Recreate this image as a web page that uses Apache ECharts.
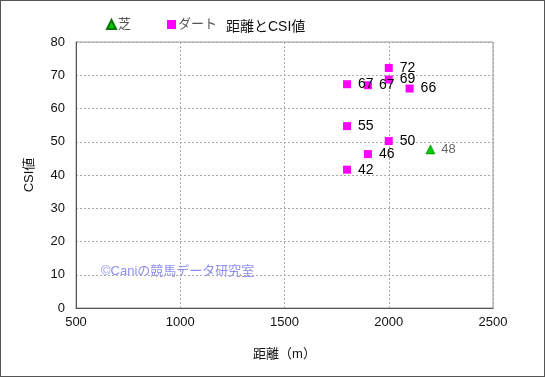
<!DOCTYPE html>
<html>
<head>
<meta charset="utf-8">
<script src="https://cdn.jsdelivr.net/npm/echarts@6/dist/echarts.min.js"></script>
<style>
  html, body { margin: 0; padding: 0; background: #fff; }
  #chart { width: 545px; height: 377px; box-sizing: border-box; border: 1px solid #555; }
</style>
</head>
<body>
<div id="chart"></div>
<script>
  // 芝
  var turfDist = [2200];
  var turfCsi = [47.7];
  // ダート
  var dirtDist = [1800, 1900, 2000, 2000, 2100, 1800, 2000, 1900, 1800];
  var dirtCsi = [67.3, 67.0, 68.7, 72.2, 66.0, 54.7, 50.2, 46.3, 41.6];

  var font = 'Liberation Sans, Arial, Noto Sans CJK JP, sans-serif';

  function pairs(xs, ys) {
    return xs.map(function (x, i) { return [x, ys[i]]; });
  }

  var chart = echarts.init(document.getElementById('chart'));
  chart.setOption({
    animation: false,
    textStyle: { fontFamily: font },
    title: {
      text: '距離とCSI値',
      left: 220,
      top: 14,
      textStyle: { fontSize: 14, fontWeight: 'normal', color: '#111', fontFamily: font }
    },
    legend: {
      left: 100,
      top: 12,
      itemGap: 36,
      itemWidth: 9,
      itemHeight: 9,
      textStyle: { fontSize: 13, color: '#555', padding: [0, 0, 0, -3] },
      data: [{ name: '芝', icon: 'triangle' }, { name: 'ダート', icon: 'rect' }]
    },
    grid: {
      left: 75,
      right: 51,
      top: 41,
      bottom: 68,
      show: true,
      borderColor: '#999',
      borderWidth: 1
    },
    xAxis: {
      type: 'value',
      min: 500,
      max: 2500,
      interval: 500,
      name: '距離（m）',
      nameLocation: 'middle',
      nameGap: 40,
      nameTextStyle: { fontSize: 13, color: '#111' },
      axisLine: { show: true, lineStyle: { color: '#555' } },
      axisTick: { show: false },
      axisLabel: { fontSize: 13, color: '#111', margin: 8, formatter: function (v) { return String(v); } },
      splitLine: { lineStyle: { color: '#aaa', type: [2, 2] } }
    },
    yAxis: {
      type: 'value',
      min: 0,
      max: 80,
      interval: 10,
      name: 'CSI値',
      nameLocation: 'middle',
      nameGap: 40,
      nameRotate: 90,
      nameTextStyle: { fontSize: 13, color: '#111' },
      axisLine: { show: true, lineStyle: { color: '#555' } },
      axisTick: { show: false },
      axisLabel: { fontSize: 13, color: '#111', margin: 11 },
      splitLine: { lineStyle: { color: '#aaa', type: [2, 2] } }
    },
    graphic: [{
      type: 'text',
      left: 100,
      top: 264,
      style: {
        text: '©Caniの競馬データ研究室',
        fontSize: 13,
        fill: '#8f8ff2',
        fontFamily: font
      }
    }],
    series: [
      {
        name: '芝',
        type: 'scatter',
        symbol: 'triangle',
        symbolSize: 9,
        itemStyle: { color: '#00cc00', borderColor: '#007700', borderWidth: 0.6, opacity: 1 },
        label: {
          show: true,
          position: 'right',
          distance: 6,
          fontSize: 13,
          color: '#666',
          formatter: function (p) { return Math.round(p.value[1]); }
        },
        data: pairs(turfDist, turfCsi)
      },
      {
        name: 'ダート',
        type: 'scatter',
        symbol: 'rect',
        symbolSize: 8,
        itemStyle: { color: '#ff00ff', opacity: 1 },
        label: {
          show: true,
          position: 'right',
          distance: 7,
          fontSize: 14,
          color: '#000',
          formatter: function (p) { return Math.round(p.value[1]); }
        },
        data: pairs(dirtDist, dirtCsi)
      }
    ]
  });
</script>
</body>
</html>
